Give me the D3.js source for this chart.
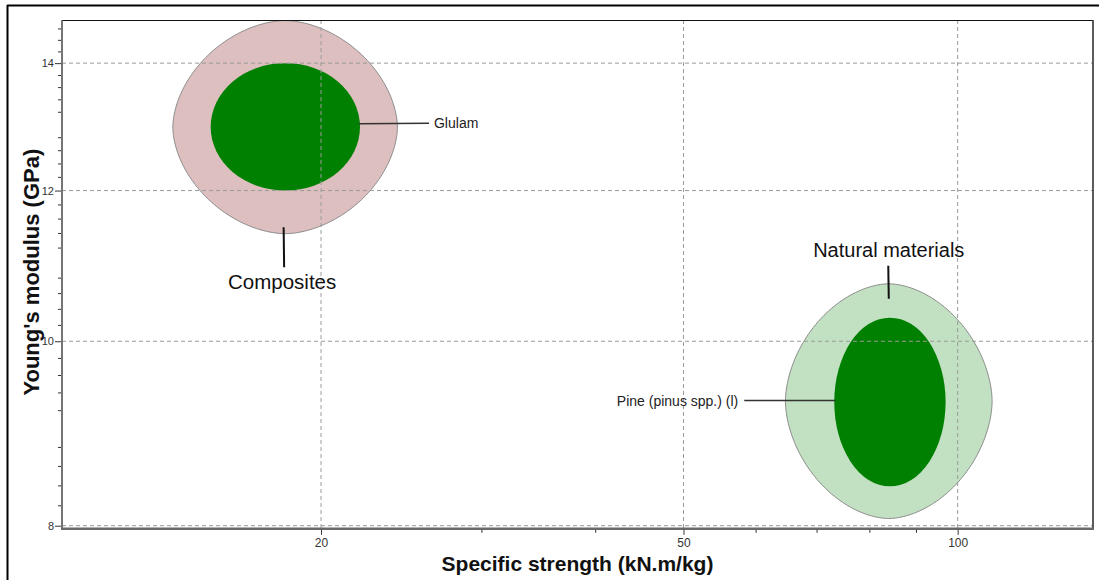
<!DOCTYPE html>
<html>
<head>
<meta charset="utf-8">
<script src="https://cdn.jsdelivr.net/npm/d3@7"></script>
<style>
  html, body { margin: 0; padding: 0; background: #fff; }
  svg { display: block; font-family: "Liberation Sans", Arial, sans-serif; }
</style>
</head>
<body>
<svg id="chart" width="1099" height="580"></svg>
<script>
// ---------------- data ----------------
const xTickValues = [20, 50, 100];
const xMinorTicks = [30, 40, 60, 70, 80, 90];
const yTickValues = [8, 10, 12, 14];
const yMinorTicks = [8.2, 8.4, 8.6, 8.8, 9.2, 9.4, 9.6, 9.8,
                     10.2, 10.4, 10.6, 10.8, 11.2, 11.4, 11.6, 11.8,
                     12.2, 12.4, 12.6, 12.8, 13.2, 13.4, 13.6, 13.8,
                     14.2, 14.4, 14.6];

// family envelopes: [strength min, strength max], [modulus min, modulus max]
const envelopeNames = ["Composites", "Natural materials"];
const envelopeStrength = [[13.75, 24.26], [64.7, 109.1]];
const envelopeModulus = [[11.39, 14.74], [8.07, 10.72]];

// material records
const materialNames = ["Glulam", "Pine (pinus spp.) (l)"];
const materialStrength = [[15.13, 22.07], [73.2, 97.0]];
const materialModulus = [[12.0, 14.0], [8.39, 10.29]];

const xTitle = "Specific strength (kN.m/kg)";
const yTitle = "Young's modulus (GPa)";

// ---------------- layout ----------------
const W = 1099, H = 580;
const plot = { left: 62, right: 1093, top: 20, bottom: 528.3 };

const x = d3.scaleLog().domain([10.39, 140.8]).range([plot.left, plot.right]);
const y = d3.scaleLog().domain([7.975, 14.75]).range([plot.bottom, plot.top]);

const svg = d3.select("#chart");
svg.append("rect").attr("width", W).attr("height", H).attr("fill", "#fff");

// outer (cropped) frame
svg.append("line").attr("x1", 7).attr("x2", W).attr("y1", 5.5).attr("y2", 5.5)
  .attr("stroke", "#000").attr("stroke-width", 2);
svg.append("line").attr("x1", 7.5).attr("x2", 7.5).attr("y1", 5).attr("y2", H)
  .attr("stroke", "#000").attr("stroke-width", 2);

const defs = svg.append("defs");
defs.append("clipPath").attr("id", "plotClip").append("rect")
  .attr("x", plot.left).attr("y", plot.top)
  .attr("width", plot.right - plot.left).attr("height", plot.bottom - plot.top);

const gPlot = svg.append("g").attr("clip-path", "url(#plotClip)");

// envelopes (superellipse in log space)
const envColors = ["#ddbfbf", "#c2e0c2"];
const nExp = 1.8;
const lineGen = d3.line().curve(d3.curveLinearClosed);
const envBox = envelopeNames.map((name, i) => {
  const x0 = x(envelopeStrength[i][0]), x1 = x(envelopeStrength[i][1]);
  const y0 = y(envelopeModulus[i][1]), y1 = y(envelopeModulus[i][0]);
  return { name, cx: (x0 + x1) / 2, cy: (y0 + y1) / 2, rx: (x1 - x0) / 2, ry: (y1 - y0) / 2, top: y0, bottom: y1 };
});
envBox.forEach((b, i) => {
  const pts = d3.range(0, 360, 1).map(a => {
    const t = a * Math.PI / 180;
    const c = Math.cos(t), s = Math.sin(t);
    return [b.cx + b.rx * Math.sign(c) * Math.pow(Math.abs(c), 2 / nExp),
            b.cy + b.ry * Math.sign(s) * Math.pow(Math.abs(s), 2 / nExp)];
  });
  gPlot.append("path").attr("d", lineGen(pts))
    .attr("fill", envColors[i]).attr("stroke", "#8a8a8a").attr("stroke-width", 1);
});

// grid lines
const grid = svg.append("g").attr("stroke", "#9a9a9a").attr("stroke-width", 1)
  .attr("stroke-dasharray", "4,3").attr("fill", "none");
xTickValues.forEach(v => {
  grid.append("line").attr("x1", x(v)).attr("x2", x(v)).attr("y1", plot.top).attr("y2", plot.bottom);
});
yTickValues.forEach(v => {
  grid.append("line").attr("x1", plot.left).attr("x2", plot.right).attr("y1", y(v)).attr("y2", y(v));
});

// material ellipses
const matBox = materialNames.map((name, i) => {
  const x0 = x(materialStrength[i][0]), x1 = x(materialStrength[i][1]);
  const y0 = y(materialModulus[i][1]), y1 = y(materialModulus[i][0]);
  return { name, cx: (x0 + x1) / 2, cy: (y0 + y1) / 2, rx: (x1 - x0) / 2, ry: (y1 - y0) / 2, left: x0, right: x1 };
});
matBox.forEach(b => {
  gPlot.append("ellipse").attr("cx", b.cx).attr("cy", b.cy).attr("rx", b.rx).attr("ry", b.ry)
    .attr("fill", "#008000");
});

// frame: top/right thin dark, left/bottom gray axis lines
svg.append("line").attr("x1", plot.left).attr("x2", plot.right).attr("y1", plot.top + 0.5).attr("y2", plot.top + 0.5)
  .attr("stroke", "#111").attr("stroke-width", 1);
svg.append("line").attr("x1", plot.right).attr("x2", plot.right).attr("y1", plot.top).attr("y2", plot.bottom)
  .attr("stroke", "#333").attr("stroke-width", 1.6);
svg.append("line").attr("x1", plot.left).attr("x2", plot.left).attr("y1", plot.top).attr("y2", plot.bottom + 1)
  .attr("stroke", "#666").attr("stroke-width", 1.8);
svg.append("line").attr("x1", plot.left - 1).attr("x2", plot.right + 1).attr("y1", plot.bottom + 0.5).attr("y2", plot.bottom + 0.5)
  .attr("stroke", "#6a6a6a").attr("stroke-width", 2.4);

// x axis ticks
const xAxisG = svg.append("g").attr("transform", `translate(0,${plot.bottom + 1.5})`);
xAxisG.call(d3.axisBottom(x).tickValues(xTickValues).tickFormat(d3.format("d")).tickSize(5).tickPadding(4));
const xMinorG = svg.append("g").attr("transform", `translate(0,${plot.bottom + 1.5})`);
xMinorG.call(d3.axisBottom(x).tickValues(xMinorTicks).tickFormat("").tickSize(3));

// y axis ticks
const yAxisG = svg.append("g").attr("transform", `translate(${plot.left - 1},0)`);
yAxisG.call(d3.axisLeft(y).tickValues(yTickValues).tickFormat(d3.format("d")).tickSize(6).tickPadding(1));
const yMinorG = svg.append("g").attr("transform", `translate(${plot.left - 1},0)`);
yMinorG.call(d3.axisLeft(y).tickValues(yMinorTicks).tickFormat("").tickSize(3));

[xAxisG, xMinorG, yAxisG, yMinorG].forEach(g => {
  g.select(".domain").remove();
  g.selectAll(".tick line").attr("stroke", "#333").attr("stroke-width", 1);
  g.selectAll(".tick text").attr("fill", "#333").attr("font-family", "'Liberation Sans', Arial, sans-serif");
});
xAxisG.selectAll(".tick text").attr("font-size", 12);
yAxisG.selectAll(".tick text").attr("font-size", 11);

// axis titles
svg.append("text").attr("x", (plot.left + plot.right) / 2).attr("y", 571)
  .attr("text-anchor", "middle").attr("font-size", 21).attr("font-weight", "bold").attr("fill", "#111")
  .text(xTitle);
svg.append("text").attr("transform", `translate(39,${(plot.top + plot.bottom) / 2 - 2}) rotate(-90)`)
  .attr("text-anchor", "middle").attr("font-size", 22).attr("font-weight", "bold").attr("fill", "#111")
  .text(yTitle);

// material labels with leader lines
const glulam = matBox[0], pine = matBox[1];
svg.append("line").attr("x1", glulam.right - 1).attr("x2", glulam.right + 69)
  .attr("y1", glulam.cy - 3).attr("y2", glulam.cy - 3.5).attr("stroke", "#333").attr("stroke-width", 1.5);
svg.append("text").attr("x", glulam.right + 74).attr("y", glulam.cy + 1)
  .attr("font-size", 14).attr("fill", "#222").text(glulam.name);

svg.append("line").attr("x1", pine.left + 1).attr("x2", pine.left - 90)
  .attr("y1", pine.cy - 1.5).attr("y2", pine.cy - 1.5).attr("stroke", "#333").attr("stroke-width", 1.5);
svg.append("text").attr("x", pine.left - 96).attr("y", pine.cy + 3.5).attr("text-anchor", "end")
  .attr("font-size", 14).attr("fill", "#222").text(pine.name);

// envelope labels
const comp = envBox[0], nat = envBox[1];
svg.append("line").attr("x1", comp.cx - 1.5).attr("x2", comp.cx - 1)
  .attr("y1", comp.bottom - 6.5).attr("y2", comp.bottom + 33.5).attr("stroke", "#111").attr("stroke-width", 2);
svg.append("text").attr("x", comp.cx - 3).attr("y", comp.bottom + 55).attr("text-anchor", "middle")
  .attr("font-size", 20.5).attr("fill", "#111").text(comp.name);

svg.append("line").attr("x1", nat.cx - 0.5).attr("x2", nat.cx)
  .attr("y1", nat.top - 18).attr("y2", nat.top + 15).attr("stroke", "#111").attr("stroke-width", 2);
svg.append("text").attr("x", nat.cx).attr("y", nat.top - 27).attr("text-anchor", "middle")
  .attr("font-size", 20).attr("fill", "#111").text(nat.name);
</script>
</body>
</html>
